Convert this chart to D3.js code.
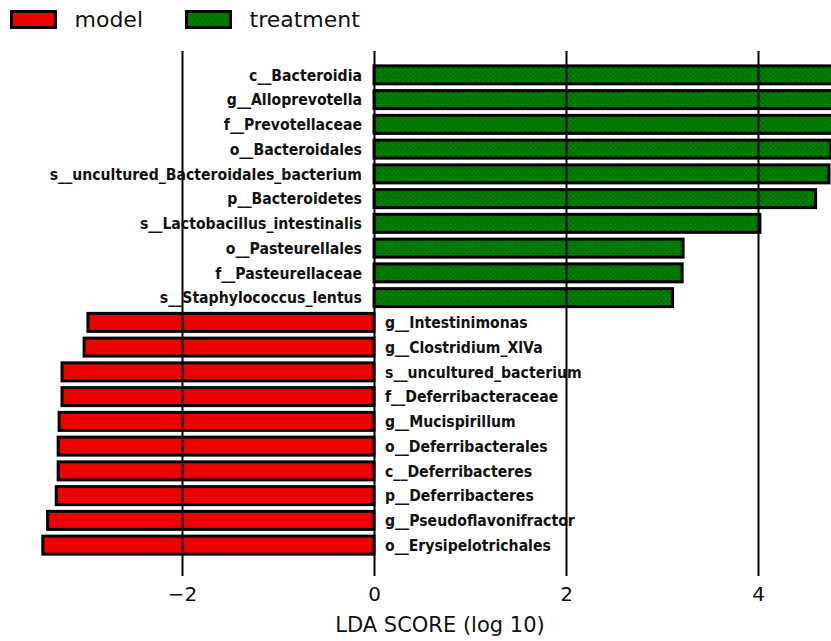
<!DOCTYPE html>
<html>
<head>
<meta charset="utf-8">
<script src="https://cdn.jsdelivr.net/npm/d3@7"></script>
<style>
  html, body { margin: 0; padding: 0; background: #fff; }
  svg { display: block; }
</style>
</head>
<body>
<div id="chart"></div>
<script>
// LEfSe LDA scores, listed top to bottom
const taxa = [
  "c__Bacteroidia",
  "g__Alloprevotella",
  "f__Prevotellaceae",
  "o__Bacteroidales",
  "s__uncultured_Bacteroidales_bacterium",
  "p__Bacteroidetes",
  "s__Lactobacillus_intestinalis",
  "o__Pasteurellales",
  "f__Pasteurellaceae",
  "s__Staphylococcus_lentus",
  "g__Intestinimonas",
  "g__Clostridium_XlVa",
  "s__uncultured_bacterium",
  "f__Deferribacteraceae",
  "g__Mucispirillum",
  "o__Deferribacterales",
  "c__Deferribacteres",
  "p__Deferribacteres",
  "g__Pseudoflavonifractor",
  "o__Erysipelotrichales"
];
const ldaScores = [
  4.92, 4.88, 4.84, 4.76, 4.74, 4.60, 4.02, 3.22, 3.21, 3.11,
  -2.98, -3.02, -3.25, -3.25, -3.28, -3.29, -3.29, -3.31, -3.40, -3.45
];
const groups = [
  "treatment", "treatment", "treatment", "treatment", "treatment",
  "treatment", "treatment", "treatment", "treatment", "treatment",
  "model", "model", "model", "model", "model",
  "model", "model", "model", "model", "model"
];
const legendGroups = ["model", "treatment"];
const xTicks = [-2, 0, 2, 4];
const xTitle = "LDA SCORE (log 10)";

const W = 831, H = 641;
const FONT = "'DejaVu Sans', sans-serif";

const svg = d3.select("#chart").append("svg")
  .attr("width", W).attr("height", H);

const defs = svg.append("defs");
const pat = defs.append("pattern")
  .attr("id", "greenDots")
  .attr("patternUnits", "userSpaceOnUse")
  .attr("width", 5).attr("height", 5);
pat.append("rect").attr("width", 5).attr("height", 5).attr("fill", "#008000");
pat.append("rect").attr("x", 0).attr("y", 0).attr("width", 1.6).attr("height", 1.6).attr("fill", "#005a00");
pat.append("rect").attr("x", 2.5).attr("y", 2.5).attr("width", 1.6).attr("height", 1.6).attr("fill", "#005a00");

const fillOf = { model: "#ee0000", treatment: "url(#greenDots)" };

const x = d3.scaleLinear().domain([-2, 4]).range([182, 758]);
const y = d3.scaleBand().domain(taxa).range([62.5, 557.5])
  .paddingInner(0.273).paddingOuter(0.1365);

const rows = taxa.map((name, i) => ({ name, value: ldaScores[i], group: groups[i] }));

// bars
svg.append("g").selectAll("rect")
  .data(rows)
  .join("rect")
  .attr("x", d => Math.min(x(0), x(d.value)))
  .attr("y", d => y(d.name))
  .attr("width", d => Math.abs(x(d.value) - x(0)))
  .attr("height", y.bandwidth())
  .attr("fill", d => fillOf[d.group])
  .attr("stroke", "#000")
  .attr("stroke-width", 3);

// vertical grid lines with the axis ticks at their foot
const axis = d3.axisBottom(x)
  .tickValues(xTicks)
  .tickSize(576 - 51)
  .tickFormat(d3.format("d"));
const axisG = svg.append("g")
  .attr("transform", "translate(0,51)")
  .call(axis);
axisG.select(".domain").remove();
axisG.selectAll(".tick line")
  .attr("stroke", "#000").attr("stroke-width", 2);
axisG.selectAll(".tick text")
  .attr("y", 576 - 51 + 25)
  .attr("dy", 0)
  .attr("font-family", FONT)
  .attr("font-size", 20)
  .attr("fill", "#111")
  .text(d => d < 0 ? "\u2212" + Math.abs(d) : d);

// taxon labels (slightly condensed bold type)
svg.append("g").selectAll("text")
  .data(rows)
  .join("text")
  .attr("transform", d =>
    `translate(${d.value > 0 ? 362 : 385},${y(d.name) + y.bandwidth() / 2}) scale(0.88,1)`)
  .attr("dy", "0.36em")
  .attr("text-anchor", d => d.value > 0 ? "end" : "start")
  .attr("font-family", FONT)
  .attr("font-weight", "bold")
  .attr("font-size", 16)
  .attr("fill", "#111")
  .text(d => d.name);

// x title
svg.append("text")
  .attr("x", 440).attr("y", 632)
  .attr("text-anchor", "middle")
  .attr("font-family", FONT)
  .attr("font-size", 21)
  .attr("fill", "#111")
  .text(xTitle);

// legend
const legendX = [11.5, 186.5];
const legend = svg.append("g").selectAll("g")
  .data(legendGroups)
  .join("g")
  .attr("transform", (d, i) => `translate(${legendX[i]},11.5)`);
legend.append("rect")
  .attr("width", 44).attr("height", 16)
  .attr("fill", d => fillOf[d])
  .attr("stroke", "#000").attr("stroke-width", 3);
legend.append("text")
  .attr("x", 63).attr("y", 15.5)
  .attr("font-family", FONT)
  .attr("font-size", 22)
  .attr("fill", "#111")
  .text(d => d);
</script>
</body>
</html>
